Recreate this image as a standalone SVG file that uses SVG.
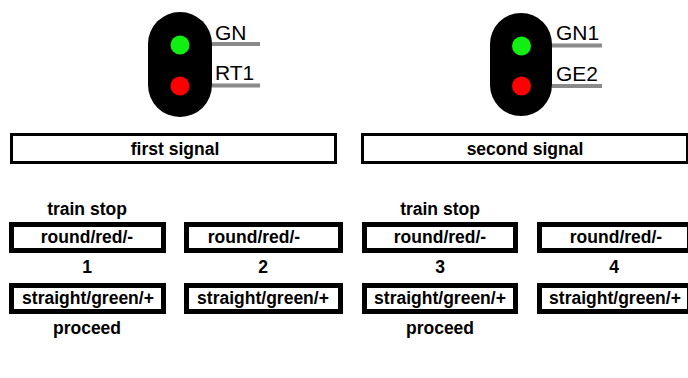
<svg xmlns="http://www.w3.org/2000/svg" width="688" height="378" viewBox="0 0 688 378">
<style>
.body{fill:#000}
.g{fill:#11ee11}
.r{fill:#ff0000}
.lead{stroke:#8a8a8a;stroke-width:4;fill:none}
.lbl{font-family:"Liberation Sans",Arial,sans-serif;font-size:21px;fill:#000}
.big{fill:#fff;stroke:#000;stroke-width:3}
.box{fill:#fff;stroke:#000;stroke-width:5}
.t{font-family:"Liberation Sans",Arial,sans-serif;font-size:17.5px;font-weight:bold;fill:#000;text-anchor:middle}
</style>
<rect width="688" height="378" fill="#fff"/>
<g id="signal1">
<rect class="body" x="148" y="12" width="64" height="105" rx="32" ry="32"/>
<circle class="g" cx="180" cy="45" r="9.5"/>
<circle class="r" cx="180" cy="86" r="9.5"/>
<line class="lead" x1="212" y1="44" x2="260" y2="44"/>
<line class="lead" x1="212" y1="85.5" x2="260" y2="85.5"/>
<text class="lbl" x="215" y="40">GN</text>
<text class="lbl" x="215" y="80">RT1</text>
</g>
<g id="signal2">
<rect class="body" x="490" y="13" width="62" height="103" rx="31" ry="31"/>
<circle class="g" cx="521.5" cy="46" r="9.5"/>
<circle class="r" cx="521.5" cy="86" r="9.5"/>
<line class="lead" x1="552" y1="45.5" x2="602" y2="45.5"/>
<line class="lead" x1="552" y1="86" x2="602" y2="86"/>
<text class="lbl" x="556" y="40">GN1</text>
<text class="lbl" x="556" y="81">GE2</text>
</g>
<g id="first-signal">
<rect class="big" x="11.5" y="134.5" width="324" height="28"/>
<text class="t" x="175" y="155">first signal</text>
</g>
<g id="second-signal">
<rect class="big" x="362.5" y="134.5" width="325" height="28"/>
<text class="t" x="525" y="155">second signal</text>
</g>
<g id="labels">
<text class="t" x="87" y="215">train stop</text>
<text class="t" x="440" y="215">train stop</text>
<text class="t" x="87" y="273">1</text>
<text class="t" x="263" y="273">2</text>
<text class="t" x="440" y="273">3</text>
<text class="t" x="614" y="273">4</text>
<text class="t" x="87" y="334">proceed</text>
<text class="t" x="440" y="334">proceed</text>
</g>
<g id="round1"><rect class="box" x="11.5" y="224.5" width="152" height="26"/><text class="t" x="87" y="243">round/red/-</text></g>
<g id="round2"><rect class="box" x="186.5" y="224.5" width="154" height="26"/><text class="t" x="254" y="243">round/red/-</text></g>
<g id="round3"><rect class="box" x="364.5" y="224.5" width="151" height="26"/><text class="t" x="440" y="243">round/red/-</text></g>
<g id="round4"><rect class="box" x="539.5" y="224.5" width="150" height="26"/><text class="t" x="616" y="243">round/red/-</text></g>
<g id="straight1"><rect class="box" x="11.5" y="285.5" width="152" height="26"/><text class="t" x="88" y="304">straight/green/+</text></g>
<g id="straight2"><rect class="box" x="186.5" y="285.5" width="154" height="26"/><text class="t" x="263" y="304">straight/green/+</text></g>
<g id="straight3"><rect class="box" x="364.5" y="285.5" width="151" height="26"/><text class="t" x="440" y="304">straight/green/+</text></g>
<g id="straight4"><rect class="box" x="539.5" y="285.5" width="150" height="26"/><text class="t" x="615" y="304">straight/green/+</text></g>
<g id="connectors"></g>
</svg>
